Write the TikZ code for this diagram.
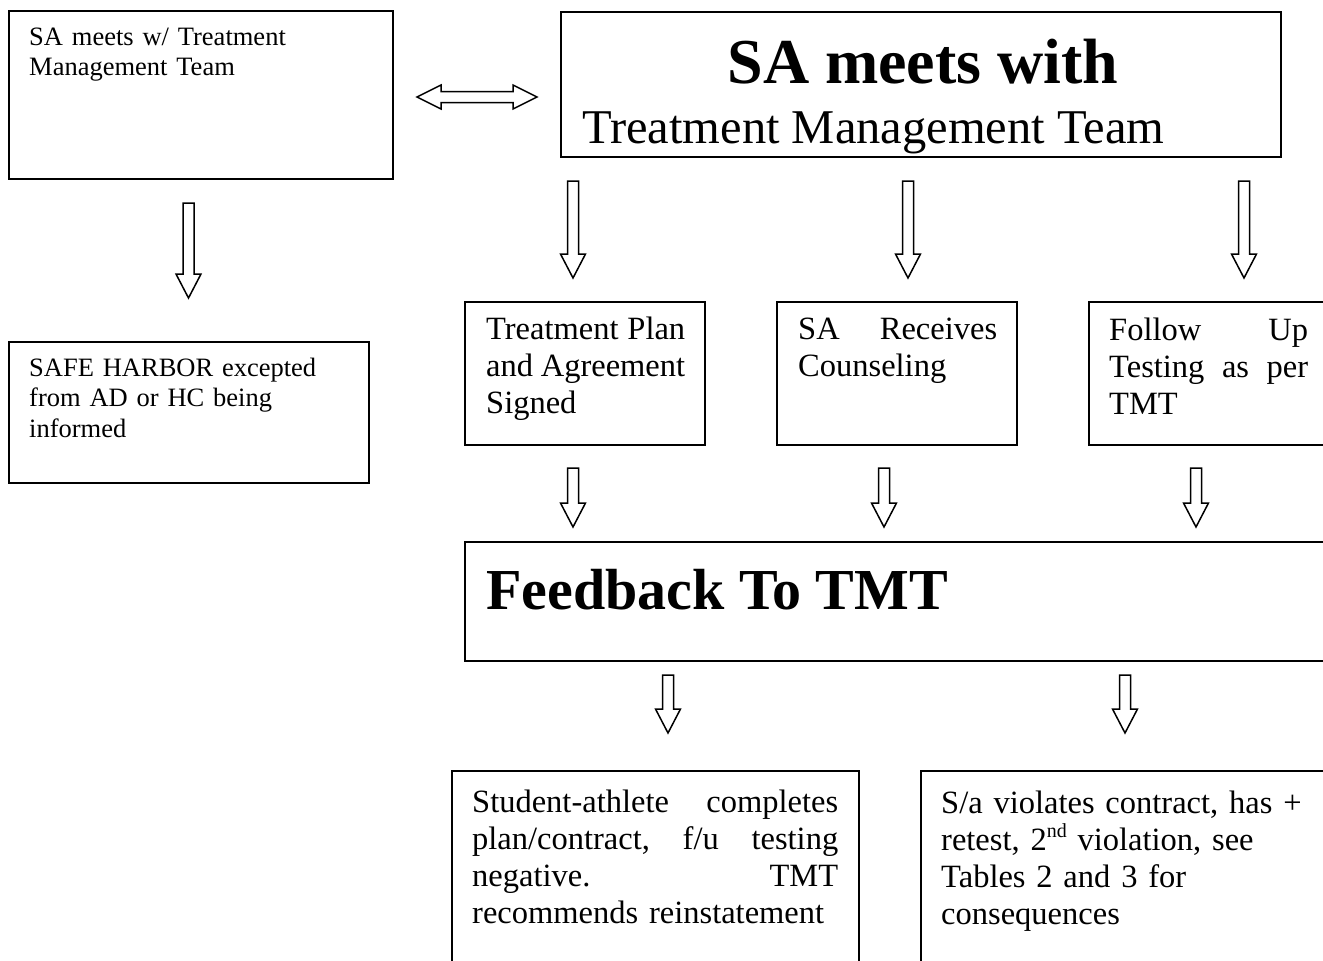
\documentclass[tikz,border=0pt]{standalone}
\usepackage{fontspec}
\setmainfont{Liberation Serif}
\newcommand{\blockdown}[3]{%
  \draw[blk] (#1-5.5,#2) -- (#1+5.5,#2) -- (#1+5.5,#3-24) -- (#1+12.5,#3-24) -- (#1,#3)
    -- (#1-12.5,#3-24) -- (#1-5.5,#3-24) -- cycle;}
\newcommand{\supnd}{\smash{\raisebox{0.42em}{\fontsize{20}{20}\selectfont nd}}}
\tikzset{
  box/.style={draw, line width=1.5pt, inner sep=0pt, outer sep=0pt},
  blk/.style={draw, line width=1.5pt, fill=white},
  smalltxt/.style={anchor=north west, inner sep=0pt, align=left, text width=#1,
    font=\fontsize{26.5}{30.3}\selectfont, execute at begin node=\strut},
  midtxt/.style={anchor=north west, inner sep=0pt, align=left, text width=#1,
    font=\fontsize{32.5}{36.8}\selectfont, execute at begin node=\strut},
}
\begin{document}
\begin{tikzpicture}[x=1pt, y=-1pt]
\useasboundingbox (0,0) rectangle (1323,961);
\fill[white] (0,0) rectangle (1323,961);
\clip (0,0) rectangle (1323,961);

% boxes
\node[box, minimum width=384pt, minimum height=168pt] (A) at (201,95) {};
\node[box, minimum width=720pt, minimum height=145pt] (B) at (921,84.5) {};
\node[box, minimum width=360pt, minimum height=141pt] (C) at (189,412.5) {};
\node[box, minimum width=240pt, minimum height=143pt] (D) at (585,373.5) {};
\node[box, minimum width=240pt, minimum height=143pt] (E) at (897,373.5) {};
\node[box, minimum width=241pt, minimum height=143pt] (F) at (1209.5,373.5) {};
\node[box, minimum width=865pt, minimum height=119pt] (G) at (897.5,601.5) {};
\node[box, minimum width=407pt, minimum height=199pt] (H) at (655.5,870.5) {};
\node[box, minimum width=409pt, minimum height=199pt] (I) at (1125.5,870.5) {};

% texts
\node[smalltxt=340pt] (tA) at (29,24) {SA meets w/ Treatment\\Management Team};
\node[smalltxt=330pt] (tC) at (29,355) {SAFE HARBOR excepted\\from AD or HC being\\informed};
\node[midtxt=199pt] (tD) at (486,314) {Treatment\hfill Plan\\and\hfill Agreement\\Signed};
\node[midtxt=199pt] (tE) at (798,314) {SA\hfill Receives\\Counseling};
\node[midtxt=199pt] (tF) at (1109,315) {Follow\hfill Up\\Testing\hfill as\hfill per\\TMT};
\node[midtxt=366pt] (tH) at (472,787) {Student-athlete\hfill completes\\plan/contract,\hfill f/u\hfill testing\\negative.\hfill TMT\\recommends reinstatement};
\node[midtxt=366pt] (tI) at (941,788) {S/a violates contract, has +\\retest, 2\supnd{} violation, see\\Tables 2 and 3 for\\consequences};

\node[anchor=base, inner sep=0pt, font=\fontsize{64}{70}\selectfont\bfseries] (tB1) at (923,83) {SA meets with};
\node[anchor=base west, inner sep=0pt, font=\fontsize{48.5}{55}\selectfont] (tB2) at (582,143) {Treatment Management Team};
\node[anchor=base west, inner sep=0pt, font=\fontsize{58}{64}\selectfont\bfseries] (tG) at (486,609) {Feedback To TMT};

% double arrow between A and B
\draw[blk] (417,97) -- (441,85) -- (441,91.5) -- (513,91.5) -- (513,85) -- (537,97)
  -- (513,109) -- (513,102.5) -- (441,102.5) -- (441,109) -- cycle;

% down arrows
\blockdown{188.5}{203}{298}
\blockdown{573}{181}{278}
\blockdown{908}{181}{278}
\blockdown{1244}{181}{278}
\blockdown{573}{468}{527}
\blockdown{884}{468}{527}
\blockdown{1196}{468}{527}
\blockdown{668}{675}{733}
\blockdown{1125}{675}{733}
\end{tikzpicture}
\end{document}
